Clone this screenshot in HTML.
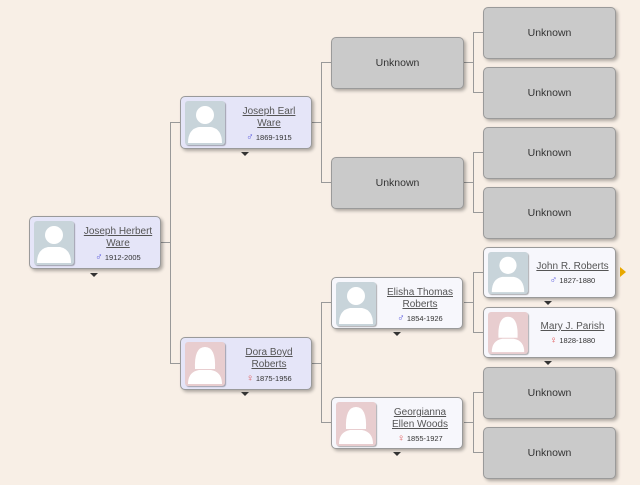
<!DOCTYPE html>
<html><head><style>
body{margin:0;width:640px;height:485px;background:#f8efe6;position:relative;overflow:hidden;font-family:"Liberation Sans",sans-serif}
.b{position:absolute;box-sizing:border-box;border:1px solid #9a9a9a;border-radius:5px;box-shadow:2px 2px 3px rgba(0,0,0,.3)}
.u{background:#cacaca;color:#333;font-size:10.5px;display:flex;align-items:center;justify-content:center;width:133px;height:52px}
.p{background:#e5e5f8;width:132px;height:53px}
.w{background:#f7f7fc}
.ph{position:absolute;left:4px;top:4px;width:40px;height:44px;border-radius:3px;overflow:hidden;box-shadow:1px 1px 1px rgba(0,0,0,.3)}
.m{background:#c8d4da}.f{background:#e8cdcf}
.t{position:absolute;left:46px;right:0;top:9px;text-align:center;color:#555;font-size:10px;line-height:12px}
.t u{text-decoration:underline}
.d{font-size:7.5px;color:#333;margin-top:2px}
.ms{color:#5555dd;font-size:10px}.fs{color:#e05555;font-size:10px}
.ln{position:absolute;background:#999}
.tr{position:absolute;width:0;height:0;border-left:4px solid transparent;border-right:4px solid transparent;border-top:4px solid #333}
</style></head><body>
<svg width="0" height="0" style="position:absolute"><defs>
<symbol id="man" viewBox="0 0 40 44"><circle cx="20" cy="14" r="9" fill="#fff"/><path d="M3 42 Q3 28 14 26 L26 26 Q37 28 37 42Z" fill="#fff"/></symbol>
<symbol id="wom" viewBox="0 0 40 44"><path d="M10 27 Q9 5 20 5 Q31 5 30 27Z" fill="#fff"/><path d="M3 42 Q3 30 14 28 L26 28 Q37 30 37 42Z" fill="#fff"/></symbol>
</defs></svg>

<div class="ln" style="left:160px;top:242px;width:10px;height:1px"></div>
<div class="ln" style="left:170px;top:122px;width:1px;height:241px"></div>
<div class="ln" style="left:170px;top:122px;width:10px;height:1px"></div>
<div class="ln" style="left:170px;top:363px;width:10px;height:1px"></div>

<div class="ln" style="left:312px;top:122px;width:9px;height:1px"></div>
<div class="ln" style="left:321px;top:62px;width:1px;height:121px"></div>
<div class="ln" style="left:321px;top:62px;width:10px;height:1px"></div>
<div class="ln" style="left:321px;top:182px;width:10px;height:1px"></div>
<div class="ln" style="left:312px;top:363px;width:9px;height:1px"></div>
<div class="ln" style="left:321px;top:302px;width:1px;height:121px"></div>
<div class="ln" style="left:321px;top:302px;width:10px;height:1px"></div>
<div class="ln" style="left:321px;top:422px;width:10px;height:1px"></div>

<div class="ln" style="left:464px;top:62px;width:9px;height:1px"></div>
<div class="ln" style="left:473px;top:32px;width:1px;height:61px"></div>
<div class="ln" style="left:473px;top:32px;width:10px;height:1px"></div>
<div class="ln" style="left:473px;top:92px;width:10px;height:1px"></div>
<div class="ln" style="left:464px;top:182px;width:9px;height:1px"></div>
<div class="ln" style="left:473px;top:152px;width:1px;height:61px"></div>
<div class="ln" style="left:473px;top:152px;width:10px;height:1px"></div>
<div class="ln" style="left:473px;top:212px;width:10px;height:1px"></div>
<div class="ln" style="left:464px;top:302px;width:9px;height:1px"></div>
<div class="ln" style="left:473px;top:272px;width:1px;height:61px"></div>
<div class="ln" style="left:473px;top:272px;width:10px;height:1px"></div>
<div class="ln" style="left:473px;top:332px;width:10px;height:1px"></div>
<div class="ln" style="left:464px;top:422px;width:9px;height:1px"></div>
<div class="ln" style="left:473px;top:392px;width:1px;height:61px"></div>
<div class="ln" style="left:473px;top:392px;width:10px;height:1px"></div>
<div class="ln" style="left:473px;top:452px;width:10px;height:1px"></div>

<div class="b p" style="left:29px;top:216px"><div class="ph m"><svg width="40" height="44"><use href="#man"/></svg></div>
<div class="t"><u>Joseph Herbert<br>Ware</u><div class="d"><span class="ms">♂</span> 1912-2005</div></div></div>
<div class="tr" style="left:90px;top:273px"></div>

<div class="b p" style="left:180px;top:96px"><div class="ph m"><svg width="40" height="44"><use href="#man"/></svg></div>
<div class="t"><u>Joseph Earl<br>Ware</u><div class="d"><span class="ms">♂</span> 1869-1915</div></div></div>
<div class="tr" style="left:241px;top:152px"></div>

<div class="b p" style="left:180px;top:337px"><div class="ph f"><svg width="40" height="44"><use href="#wom"/></svg></div>
<div class="t"><u>Dora Boyd<br>Roberts</u><div class="d"><span class="fs">♀</span> 1875-1956</div></div></div>
<div class="tr" style="left:241px;top:392px"></div>

<div class="b u" style="left:331px;top:37px">Unknown</div>
<div class="b u" style="left:331px;top:157px">Unknown</div>

<div class="b p w" style="left:331px;top:277px;height:52px"><div class="ph m"><svg width="40" height="44"><use href="#man"/></svg></div>
<div class="t"><u>Elisha Thomas<br>Roberts</u><div class="d"><span class="ms">♂</span> 1854-1926</div></div></div>
<div class="tr" style="left:393px;top:332px"></div>

<div class="b p w" style="left:331px;top:397px;height:52px"><div class="ph f"><svg width="40" height="44"><use href="#wom"/></svg></div>
<div class="t"><u>Georgianna<br>Ellen Woods</u><div class="d"><span class="fs">♀</span> 1855-1927</div></div></div>
<div class="tr" style="left:393px;top:452px"></div>

<div class="b u" style="left:483px;top:7px">Unknown</div>
<div class="b u" style="left:483px;top:67px">Unknown</div>
<div class="b u" style="left:483px;top:127px">Unknown</div>
<div class="b u" style="left:483px;top:187px">Unknown</div>

<div class="b p w" style="left:483px;top:247px;width:133px;height:51px"><div class="ph m" style="height:42px"><svg width="40" height="42"><use href="#man"/></svg></div>
<div class="t" style="top:13px"><u>John R. Roberts</u><div class="d"><span class="ms">♂</span> 1827-1880</div></div></div>
<div class="tr" style="left:544px;top:301px"></div>
<div style="position:absolute;left:620px;top:267px;width:0;height:0;border-top:5px solid transparent;border-bottom:5px solid transparent;border-left:6px solid #e8a800"></div>

<div class="b p w" style="left:483px;top:307px;width:133px;height:51px"><div class="ph f" style="height:42px"><svg width="40" height="42"><use href="#wom"/></svg></div>
<div class="t" style="top:13px"><u>Mary J. Parish</u><div class="d"><span class="fs">♀</span> 1828-1880</div></div></div>
<div class="tr" style="left:544px;top:361px"></div>

<div class="b u" style="left:483px;top:367px">Unknown</div>
<div class="b u" style="left:483px;top:427px">Unknown</div>
</body></html>
